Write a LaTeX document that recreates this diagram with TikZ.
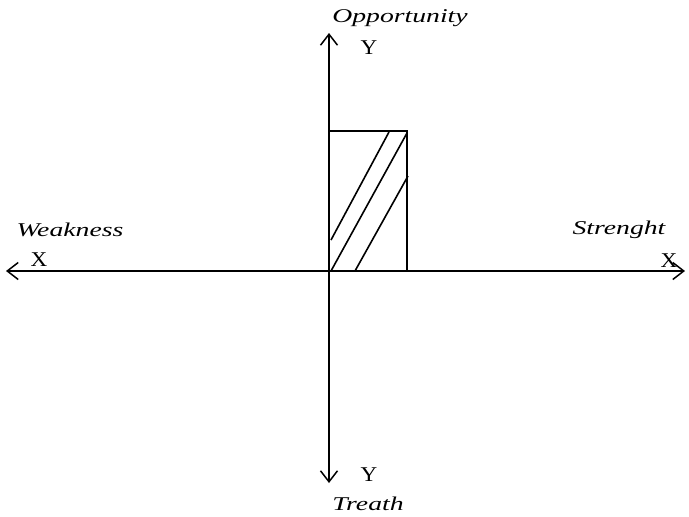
\documentclass[tikz,border=0pt]{standalone}
\usepackage{fontspec}
\setmainfont{Liberation Serif}
\newfontfamily\labfont[FakeStretch=1.42]{Liberation Serif}
\newfontfamily\axfont[FakeStretch=1.1]{Liberation Serif}
\usetikzlibrary{arrows.meta}
\begin{document}
\begin{tikzpicture}[x=1pt,y=-1pt,
  axis/.style={line width=1.5pt,-{Straight Barb[length=11pt,width=17pt]}},
  hatch/.style={line width=1.6pt},
  lab/.style={inner sep=0pt,font=\labfont\fontsize{19.5}{22}\selectfont\itshape},
  axlab/.style={inner sep=0pt,font=\axfont\fontsize{21}{24}\selectfont}]
\useasboundingbox (0,0) rectangle (689,517);
\coordinate (O) at (329,271);
\coordinate (top) at (329,33);
\coordinate (bot) at (329,483);
\coordinate (lft) at (6,271);
\coordinate (rgt) at (685,271);
\draw[axis] (O) -- (top);
\draw[axis] (O) -- (bot);
\draw[axis] (O) -- (lft);
\draw[axis] (O) -- (rgt);
\coordinate (rtl) at (329,131);
\coordinate (rtr) at (407,131);
\coordinate (rbr) at (407,271);
\draw[line width=1.4pt] (rtl) -- (rtr) -- (rbr);
\coordinate (h1a) at (331,240); \coordinate (h1b) at (389,132);
\coordinate (h2a) at (331,271); \coordinate (h2b) at (407,133);
\coordinate (h3a) at (355,271); \coordinate (h3b) at (408,176);
\draw[hatch] (h1a) -- (h1b);
\draw[hatch] (h2a) -- (h2b);
\draw[hatch] (h3a) -- (h3b);
\node[lab] (opp) at (400,18) {Opportunity};
\node[axlab] (yt) at (369,48) {Y};
\node[lab] (weak) at (70,230) {Weakness};
\node[axlab] (xl) at (39,260) {X};
\node[lab] (str) at (619,230) {Strenght};
\node[axlab] (xr) at (669,261) {X};
\node[axlab] (yb) at (369,475) {Y};
\node[lab] (tre) at (368,504) {Treath};
\end{tikzpicture}
\end{document}
